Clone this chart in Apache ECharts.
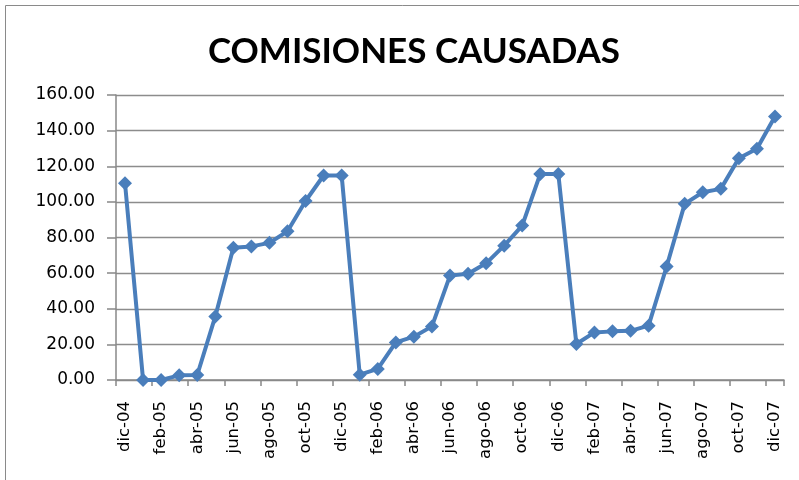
<!DOCTYPE html>
<html>
<head>
<meta charset="utf-8">
<script src="https://cdn.jsdelivr.net/npm/echarts@6/dist/echarts.min.js"></script>
<style>
html,body{margin:0;padding:0;background:#fff;}
#c{width:799px;height:480px;}
</style>
</head>
<body>
<div id="c"></div>
<script>
var categories = ["dic-04","ene-05","feb-05","mar-05","abr-05","may-05","jun-05","jul-05","ago-05","sep-05","oct-05","nov-05","dic-05",
"ene-06","feb-06","mar-06","abr-06","may-06","jun-06","jul-06","ago-06","sep-06","oct-06","nov-06","dic-06",
"ene-07","feb-07","mar-07","abr-07","may-07","jun-07","jul-07","ago-07","sep-07","oct-07","nov-07","dic-07"];
var comisiones = [110.4,0,0,2.6,2.8,35.7,74.2,75.0,77.0,83.5,100.5,114.8,114.8,
3.0,6.2,21.1,24.3,30.1,58.6,59.6,65.5,75.4,86.7,115.7,115.7,
20.2,26.7,27.3,27.6,30.5,63.7,98.9,105.4,107.3,124.5,129.8,147.9];
var yTicks = {min:0, max:160, interval:20};
var titleText = "COMISIONES CAUSADAS";

var chart = echarts.init(document.getElementById('c'), null, {renderer:'canvas'});
chart.setOption({
  animation:false,
  backgroundColor:'#ffffff',
  title:{text:titleText, left:409, top:29, textAlign:'center',
    textStyle:{fontFamily:'Lato', fontWeight:'bold', fontSize:35, color:'#000'}},
  graphic:[{type:'rect', shape:{x:5.5,y:5.5,width:820,height:500}, style:{fill:'none', stroke:'#8a8a8a', lineWidth:1}, silent:true}],
  grid:{left:116, right:15, top:95, bottom:100, containLabel:false},
  xAxis:{type:'category', data:categories, boundaryGap:true,
    axisLine:{lineStyle:{color:'#888', width:1.5}},
    axisTick:{show:true, interval:1, length:6, lineStyle:{color:'#888', width:1.5}},
    axisLabel:{interval:1, rotate:90, margin:21, fontFamily:'DejaVu Sans', fontSize:16.5, color:'#000'},
    splitLine:{show:false}},
  yAxis:{type:'value', min:yTicks.min, max:yTicks.max, interval:yTicks.interval,
    axisLine:{show:true, lineStyle:{color:'#888', width:1.5}},
    axisTick:{show:true, length:9, inside:false, lineStyle:{color:'#888', width:1.5}},
    axisLabel:{margin:21, fontFamily:'DejaVu Sans', fontSize:17, color:'#000', formatter:function(v){return v.toFixed(2);}},
    splitLine:{lineStyle:{color:'#8c8c8c', width:1.3}}},
  series:[{type:'line', data:comisiones, symbol:'diamond', symbolSize:14, showAllSymbol:true,
    lineStyle:{color:'#4a7ebb', width:4}, itemStyle:{color:'#4a7ebb'}}]
});
</script>
</body>
</html>
